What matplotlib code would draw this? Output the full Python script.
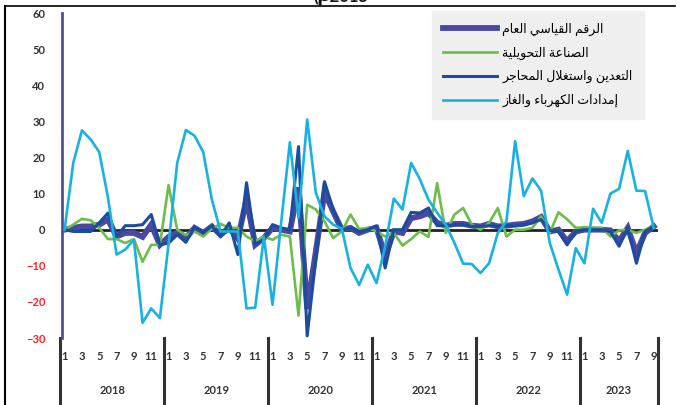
import numpy as np
import matplotlib
matplotlib.use("Agg")
import matplotlib.pyplot as plt
from matplotlib.lines import Line2D
import matplotlib.transforms as mtransforms

plt.rcParams['font.family'] = ['Lato', 'DejaVu Sans']

# ---- data (month-on-month change, Jan 2018 .. Sep 2023) ----
years = ['2018', '2019', '2020', '2021', '2022', '2023']
months_per_year = [12, 12, 12, 12, 12, 9]

general = [0, 0.5, 0.9, 0.9, 1.4, 2.8, -1.9, -0.9, -0.9, -2, 1.4, -4.2,
           -2, -0.8, -2.3, 0.5, -0.9, 0.9, -1.4, 0.5, -2.5, 8.5, -4.2, -2.3,
           0.5, 0, -0.5, 11.7, -22, -6, 10.5, 5, 0, 0.5, -0.9, 0,
           0.5, -7.4, -0.5, -0.9, 3.2, 3.7, 4.6, 1.9, 1.1, 1.6, 1.6, 1.1,
           0.9, 1.6, 0.9, 1.1, 1.4, 1.6, 2.3, 3.5, -0.5, 0, -3.2, -0.5,
           0, 0, 0, -0.2, -3.2, 0.5, -6.5, -0.9, 0.9]
manufacturing = [0, 1.4, 3, 2.6, 0.5, -2.6, -2.6, -3.7, -2.6, -8.9, -4.2, -4.2,
                 12.3, 0, -1.5, -0.5, -1.9, 0.3, 1.6, 0.5, 0.5, -1.9, -3.2, -1.9,
                 -2.8, -1.4, -1.9, -23.8, 6.9, 5.6, 2.3, -2.3, -0.5, 4.2, 0.2, 0.5,
                 -0.5, -1.9, -0.9, -4.4, -2.6, -0.5, -2, 12.9, -0.9, 4.2, 6, 1.4,
                 0, 1.9, 6, -1.9, 0, 0, 0.5, 3.7, -0.9, 4.8, 2.9, 0.5,
                 0.7, 0.6, 0.5, -1.9, -0.2, 0, -0.9, 0, 1.1]
mining = [0, -0.5, -0.5, -0.5, 1.9, 4.6, -1.9, 1.1, 1.1, 1.4, 4.2, -4.2,
          -3.7, -1.4, -3.5, 0.7, -0.9, 1.1, -2, 1.9, -6.9, 13, -4, -2.8,
          1.4, 0.5, 0, 23, -29.4, -8, 13.3, 5.6, 0, 0.5, -0.5, 0,
          1.1, -10.6, 0, 0, 4.8, 4.6, 6, 1.1, 1.1, 1.4, 1.4, 0.9,
          0.9, 1.1, 0.9, 1.1, 1.1, 1.4, 1.9, 2.8, -0.2, -0.5, -4.2, -0.5,
          0, 0, 0, -0.5, -4.6, 0.5, -9.3, -0.5, 0.9]
electricity = [0, 18.5, 27.5, 25, 21.5, 9, -6.9, -5.5, -2.8, -25.8, -21.8, -24.5,
               -4, 18.5, 27.6, 26, 21.5, 8.3, -0.5, -0.5, -0.5, -21.8, -21.6, -2,
               -20.8, 2, 24.2, 3.3, 30.5, 10.2, 3.7, 1.4, 0.3, -10.6, -15.3, -9.7,
               -14.8, -4.6, 8.6, 5.6, 18.5, 14, 8.3, 4.7, 1.4, -3.7, -9.4, -9.5,
               -12, -9.3, -0.9, 2.3, 24.5, 9.3, 14.2, 10.8, -3.7, -11, -18, -5.1,
               -9.3, 5.8, 1.9, 10, 11.3, 21.8, 10.8, 10.7, 0.5]

labels = ['الرقم القياسي العام', 'الصناعة التحويلية',
          'التعدين واستغلال المحاجر', 'إمدادات الكهرباء والغاز']
y_ticks = [60, 50, 40, 30, 20, 10, 0, -10, -20, -30]

# ---- tiny arabic shaper (matplotlib has no bidi / joining) ----
FORMS = {
    'ا': ('\uFE8D', '\uFE8E', None, None),
    'إ': ('\uFE87', '\uFE88', None, None),
    'ب': ('\uFE8F', '\uFE90', '\uFE91', '\uFE92'),
    'ة': ('\uFE93', '\uFE94', None, None),
    'ت': ('\uFE95', '\uFE96', '\uFE97', '\uFE98'),
    'ج': ('\uFE9D', '\uFE9E', '\uFE9F', '\uFEA0'),
    'ح': ('\uFEA1', '\uFEA2', '\uFEA3', '\uFEA4'),
    'د': ('\uFEA9', '\uFEAA', None, None),
    'ر': ('\uFEAD', '\uFEAE', None, None),
    'ز': ('\uFEAF', '\uFEB0', None, None),
    'س': ('\uFEB1', '\uFEB2', '\uFEB3', '\uFEB4'),
    'ص': ('\uFEB9', '\uFEBA', '\uFEBB', '\uFEBC'),
    'ع': ('\uFEC9', '\uFECA', '\uFECB', '\uFECC'),
    'غ': ('\uFECD', '\uFECE', '\uFECF', '\uFED0'),
    'ق': ('\uFED5', '\uFED6', '\uFED7', '\uFED8'),
    'ك': ('\uFED9', '\uFEDA', '\uFEDB', '\uFEDC'),
    'ل': ('\uFEDD', '\uFEDE', '\uFEDF', '\uFEE0'),
    'م': ('\uFEE1', '\uFEE2', '\uFEE3', '\uFEE4'),
    'ن': ('\uFEE5', '\uFEE6', '\uFEE7', '\uFEE8'),
    'ه': ('\uFEE9', '\uFEEA', '\uFEEB', '\uFEEC'),
    'و': ('\uFEED', '\uFEEE', None, None),
    'ي': ('\uFEF1', '\uFEF2', '\uFEF3', '\uFEF4'),
    'ء': ('\uFE80', None, None, None),
}


def shape(txt):
    out = []
    i = 0
    n = len(txt)
    while i < n:
        c = txt[i]
        if c not in FORMS:
            out.append(c)
            i += 1
            continue
        prev = txt[i - 1] if i > 0 else ''
        joins_prev = (prev in FORMS and FORMS[prev][2] is not None
                      and FORMS[c][1] is not None)
        if c == 'ل' and i + 1 < n and txt[i + 1] in 'اإ':
            lig = ('\uFEFB', '\uFEFC') if txt[i + 1] == 'ا' else ('\uFEF9', '\uFEFA')
            out.append(lig[1] if joins_prev else lig[0])
            i += 2
            continue
        nxt = txt[i + 1] if i + 1 < n else ''
        joins_next = (FORMS[c][2] is not None and nxt in FORMS
                      and FORMS[nxt][1] is not None)
        iso, fin, ini, med = FORMS[c]
        if joins_prev and joins_next:
            g = med
        elif joins_prev:
            g = fin
        elif joins_next:
            g = ini
        else:
            g = iso
        out.append(g)
        i += 1
    return ''.join(out)[::-1]


# ---- figure ----
fig = plt.figure(figsize=(6.82, 4.05), dpi=100)
ax = fig.add_axes([0.0909, 0.1654, 0.874, 0.8025])

x = np.arange(len(general))
ax.axhline(0, color='#222222', lw=2.0, zorder=1)
ax.plot(x, general, color='#4a48a0', lw=4.2, solid_joinstyle='miter', label=shape(labels[0]), zorder=2)
ax.plot(x, manufacturing, color='#6cbd4a', lw=1.9, label=shape(labels[1]), zorder=3)
ax.plot(x, mining, color='#1c4c9c', lw=2.2, label=shape(labels[2]), zorder=4)
ax.plot(x, electricity, color='#18b2e2', lw=1.9, label=shape(labels[3]), zorder=5)

ax.set_xlim(-0.3, len(general) - 0.5)
ax.set_ylim(-30, 60)
ax.set_yticks(y_ticks)
ax.set_xticks([])
ax.tick_params(axis='y', length=0, pad=12, labelsize=8)
for t, v in zip(ax.get_yticklabels(), y_ticks):
    t.set_fontweight('bold')
    t.set_color('#ff2020' if v < 0 else '#333333')

for s in ['top', 'right', 'bottom']:
    ax.spines[s].set_visible(False)
ax.spines['left'].set_color('#5050a0')
ax.spines['left'].set_linewidth(2)

# multi-level category axis
trans = mtransforms.blended_transform_factory(ax.transData, ax.transAxes)
start = 0
edges = [-0.5]
for yr, n in zip(years, months_per_year):
    for m in range(1, n + 1, 2):
        ax.text(start + m - 1, -0.058, str(m), transform=trans, ha='center',
                va='center', fontsize=8, fontweight='bold', color='#333333')
    ax.text(start + (n - 1) / 2, -0.16, yr, transform=trans, ha='center',
            va='center', fontsize=8, fontweight='bold', color='#333333')
    start += n
    edges.append(start - 0.5)
for e in edges:
    ax.plot([e, e], [0, -0.21], transform=trans, color='#333333', lw=2.2,
            clip_on=False)

leg = ax.legend(loc='upper left', bbox_to_anchor=(0.621, 1.005), fontsize=9,
                frameon=True, fancybox=False, facecolor='#efefef',
                edgecolor='#efefef', framealpha=1, handlelength=4.3,
                handletextpad=0.4, labelspacing=0.85, borderpad=0.9,
                borderaxespad=0)

# title fragment cut at the top, frame lines
fig.text(0.5, 1.006, '(' + shape('م') + '2015', ha='center', va='center',
         fontsize=12, fontweight='bold', color='#111111')
fig.add_artist(Line2D([0.0073, 0.99], [0.985, 0.985], color='black', lw=1.2))
fig.add_artist(Line2D([0.0073, 0.0073], [0, 0.985], color='black', lw=1.5))

fig.savefig('out.png', dpi=100)
